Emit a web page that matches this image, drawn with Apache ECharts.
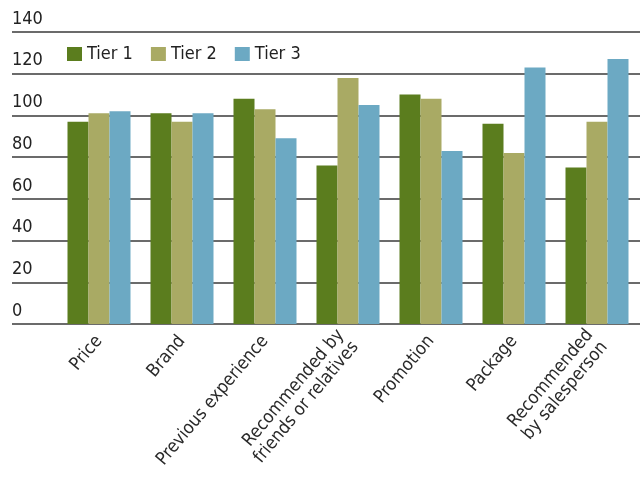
<!DOCTYPE html>
<html>
<head>
<meta charset="utf-8">
<script src="https://cdn.jsdelivr.net/npm/echarts@6/dist/echarts.min.js"></script>
<style>
html, body { margin: 0; padding: 0; background: #fff; }
#main { width: 640px; height: 479px; }
</style>
</head>
<body>
<div id="main"></div>
<script>
var categories = ['Price', 'Brand', 'Previous experience', 'Recommended by\nfriends or relatives', 'Promotion', 'Package', 'Recommended\nby salesperson'];
var tier1 = [97, 101, 108, 76, 110, 96, 75];
var tier2 = [101, 97, 103, 118, 108, 82, 97];
var tier3 = [102, 101, 89, 105, 83, 123, 127];
var yTicks = [0, 20, 40, 60, 80, 100, 120, 140];

var fontName = '"DejaVu Sans Condensed", "Roboto", sans-serif';

var dom = document.getElementById('main');
var chart = echarts.init(dom);
var option = {
    backgroundColor: '#FFFFFF',
    animation: false,
    legend: {
        left: 62,
        top: 40,
        itemWidth: 15,
        itemHeight: 14,
        itemGap: 18,
        icon: 'rect',
        textStyle: {fontFamily: fontName, fontSize: 18, color: '#222'},
        data: ['Tier 1', 'Tier 2', 'Tier 3']
    },
    grid: [
        {left: 57.5, right: 1.5, top: 32, bottom: 155},
        {left: 12, right: 0, top: 32, bottom: 155}
    ],
    xAxis: [
        {
            type: 'category',
            gridIndex: 0,
            data: categories,
            axisLine: {show: false},
            axisTick: {show: false},
            axisLabel: {
                rotate: 50,
                margin: 14,
                interval: 0,
                fontFamily: fontName,
                fontSize: 18,
                lineHeight: 19,
                color: '#2a2a2a'
            }
        },
        {
            type: 'value',
            gridIndex: 1,
            min: 0,
            max: 1,
            show: false
        }
    ],
    yAxis: [
        {
            type: 'value',
            gridIndex: 0,
            min: yTicks[0],
            max: yTicks[yTicks.length - 1],
            interval: 20,
            show: false
        },
        {
            type: 'value',
            gridIndex: 1,
            min: yTicks[0],
            max: yTicks[yTicks.length - 1],
            interval: 20,
            axisLine: {show: false},
            axisTick: {show: false},
            splitLine: {lineStyle: {color: '#3a3a3a', width: 1.5}},
            axisLabel: {
                inside: true,
                margin: 0,
                align: 'left',
                verticalAlign: 'bottom',
                padding: [0, 0, 4, 0],
                fontFamily: fontName,
                fontSize: 18,
                color: '#222'
            }
        }
    ],
    series: [
        {
            name: 'Tier 1',
            type: 'bar',
            xAxisIndex: 0,
            yAxisIndex: 0,
            barWidth: 21,
            barGap: 0,
            data: tier1,
            color: '#5b7d1e'
        },
        {
            name: 'Tier 2',
            type: 'bar',
            xAxisIndex: 0,
            yAxisIndex: 0,
            barWidth: 21,
            barGap: 0,
            data: tier2,
            color: '#a9aa64'
        },
        {
            name: 'Tier 3',
            type: 'bar',
            xAxisIndex: 0,
            yAxisIndex: 0,
            barWidth: 21,
            barGap: 0,
            data: tier3,
            color: '#6ca9c3'
        }
    ]
};
chart.setOption(option);
</script>
</body>
</html>
